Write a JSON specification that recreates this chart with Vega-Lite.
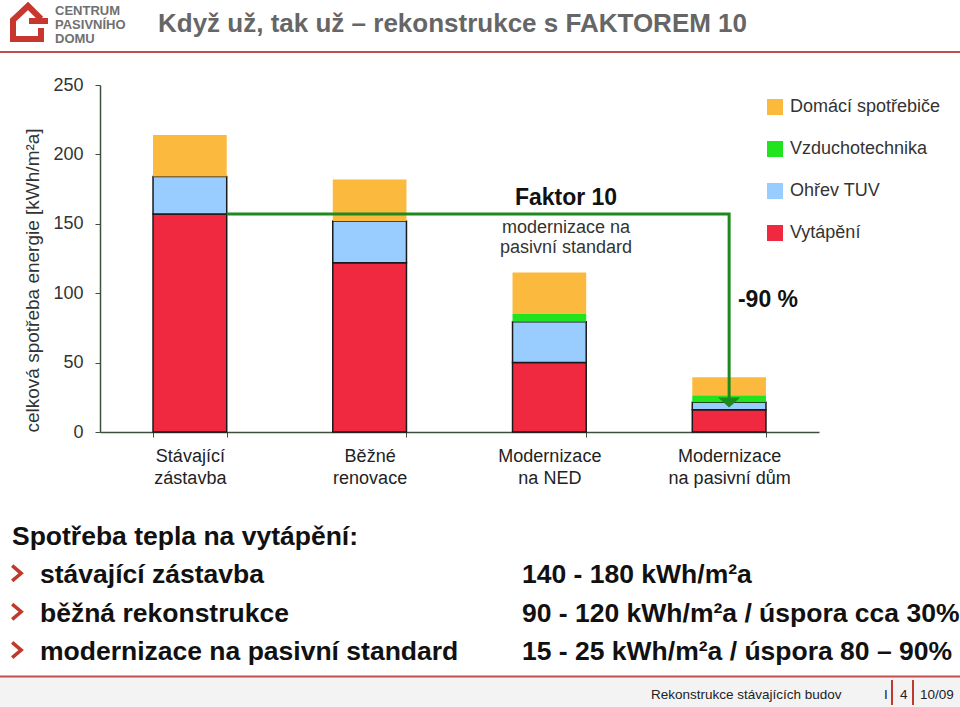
{
  "$schema": "https://vega.github.io/schema/vega-lite/v6.json",
  "width": 719,
  "height": 347,
  "autosize": {"type": "none"},
  "padding": {"left": 100, "top": 85, "right": 141, "bottom": 275},
  "background": "white",
  "config": {
    "font": "Liberation Sans",
    "view": {"stroke": null}
  },
  "resolve": {"scale": {"x": "independent"}, "axis": {"x": "independent", "y": "independent"}},
  "layer": [
    {
      "data": {"values": [{"u": -0.6, "u2": 4.9, "v": -176.2, "v2": -200}]},
      "mark": {"type": "rect", "color": "#f3f3f3"},
      "encoding": {
        "x": {"field": "u", "type": "quantitative", "scale": {"domain": [0, 4], "nice": false, "zero": false}, "axis": null},
        "x2": {"field": "u2"},
        "y": {"field": "v", "type": "quantitative", "scale": {"domain": [0, 250], "nice": false}, "axis": null},
        "y2": {"field": "v2"}
      }
    },
    {
      "data": {"values": [
        {"kategorie": "Stávající zástavba", "typ": "Vytápění", "vrstva": 1, "hodnota": 157},
        {"kategorie": "Stávající zástavba", "typ": "Ohřev TUV", "vrstva": 2, "hodnota": 27},
        {"kategorie": "Stávající zástavba", "typ": "Domácí spotřebiče", "vrstva": 4, "hodnota": 30},
        {"kategorie": "Běžné renovace", "typ": "Vytápění", "vrstva": 1, "hodnota": 122},
        {"kategorie": "Běžné renovace", "typ": "Ohřev TUV", "vrstva": 2, "hodnota": 30},
        {"kategorie": "Běžné renovace", "typ": "Domácí spotřebiče", "vrstva": 4, "hodnota": 30},
        {"kategorie": "Modernizace na NED", "typ": "Vytápění", "vrstva": 1, "hodnota": 50},
        {"kategorie": "Modernizace na NED", "typ": "Ohřev TUV", "vrstva": 2, "hodnota": 29.5},
        {"kategorie": "Modernizace na NED", "typ": "Vzduchotechnika", "vrstva": 3, "hodnota": 5.5},
        {"kategorie": "Modernizace na NED", "typ": "Domácí spotřebiče", "vrstva": 4, "hodnota": 30},
        {"kategorie": "Modernizace na pasivní dům", "typ": "Vytápění", "vrstva": 1, "hodnota": 16},
        {"kategorie": "Modernizace na pasivní dům", "typ": "Ohřev TUV", "vrstva": 2, "hodnota": 5.5},
        {"kategorie": "Modernizace na pasivní dům", "typ": "Vzduchotechnika", "vrstva": 3, "hodnota": 5},
        {"kategorie": "Modernizace na pasivní dům", "typ": "Domácí spotřebiče", "vrstva": 4, "hodnota": 13}
      ]},
      "mark": {"type": "bar", "strokeWidth": 1.5},
      "encoding": {
        "x": {
          "field": "kategorie", "type": "nominal", "sort": null,
          "scale": {"paddingInner": 0.59, "paddingOuter": 0.295},
          "axis": {
            "title": null, "labelAngle": 0, "tickBand": "extent",
            "labelExpr": "[slice(datum.label, 0, indexof(datum.label, ' ')), slice(datum.label, indexof(datum.label, ' ') + 1)]",
            "labelFontSize": 18, "labelColor": "#222", "labelLineHeight": 22, "labelPadding": 10,
            "tickSize": 5, "tickColor": "#3d4f3d", "domainColor": "#3d4f3d", "domainWidth": 1.5
          }
        },
        "y": {
          "field": "hodnota", "type": "quantitative", "stack": "zero",
          "scale": {"domain": [0, 250], "nice": false},
          "axis": {
            "title": "celková spotřeba energie [kWh/m²a]", "values": [0, 50, 100, 150, 200, 250],
            "grid": false, "tickSize": 5, "labelPadding": 12, "labelFontSize": 18, "labelColor": "#333",
            "titleFontSize": 19, "titleFontWeight": "normal", "titleColor": "#333", "titlePadding": 10,
            "titleAnchor": "start",
            "tickColor": "#3d4f3d", "domainColor": "#3d4f3d", "domainWidth": 1.5
          }
        },
        "color": {
          "field": "typ", "type": "nominal",
          "scale": {
            "domain": ["Domácí spotřebiče", "Vzduchotechnika", "Ohřev TUV", "Vytápění"],
            "range": ["#FBBA3E", "#22E41E", "#99CCFF", "#F02840"]
          },
          "legend": {
            "title": null, "orient": "none", "legendX": 666, "legendY": 13,
            "symbolType": "square", "symbolSize": 256, "symbolStrokeWidth": 1.5,
            "labelFontSize": 18, "labelColor": "#333", "labelOffset": 6, "rowPadding": 20,
            "encode": {"symbols": {"update": {"stroke": {"signal": "datum.value === 'Ohřev TUV' || datum.value === 'Vytápění' ? '#1a1a1a' : 'transparent'"}, "opacity": {"value": 1}}}}
          }
        },
        "order": {"field": "vrstva", "type": "quantitative"},
        "stroke": {
          "condition": {"test": "datum.typ === 'Vytápění' || datum.typ === 'Ohřev TUV'", "value": "#1a1a1a"},
          "value": "transparent"
        }
      }
    },
    {
      "data": {"values": [
        {"k": 1, "u": 0.705, "v": 157},
        {"k": 2, "u": 3.5, "v": 157},
        {"k": 3, "u": 3.5, "v": 24}
      ]},
      "mark": {"type": "line", "color": "#1E8A1E", "strokeWidth": 3, "strokeJoin": "miter", "strokeCap": "butt"},
      "encoding": {
        "x": {"field": "u", "type": "quantitative", "scale": {"domain": [0, 4], "nice": false, "zero": false}, "axis": null},
        "y": {"field": "v", "type": "quantitative", "scale": {"domain": [0, 250], "nice": false}, "axis": null},
        "order": {"field": "k", "type": "quantitative"}
      }
    },
    {
      "data": {"values": [{"u": 3.5, "v": 21.3}]},
      "mark": {"type": "point", "shape": "M-1,-0.45L1,-0.45L0,0.45Z", "size": 484, "filled": true, "color": "#1E8A1E", "opacity": 1},
      "encoding": {
        "x": {"field": "u", "type": "quantitative", "scale": {"domain": [0, 4], "nice": false, "zero": false}, "axis": null},
        "y": {"field": "v", "type": "quantitative", "scale": {"domain": [0, 250], "nice": false}, "axis": null}
      }
    },
    {
      "data": {"values": [
        {"u": -0.6, "u2": 4.9, "v": 273.8},
        {"u": -0.6, "u2": 4.9, "v": -176.2}
      ]},
      "mark": {"type": "rule", "color": "#C0504D", "strokeWidth": 2},
      "encoding": {
        "x": {"field": "u", "type": "quantitative", "scale": {"domain": [0, 4], "nice": false, "zero": false}, "axis": null},
        "x2": {"field": "u2"},
        "y": {"field": "v", "type": "quantitative", "scale": {"domain": [0, 250], "nice": false}, "axis": null}
      }
    },
    {
      "data": {"values": [
        {"u": 4.4061, "v": -178.7, "v2": -196.7},
        {"u": 4.5229, "v": -178.7, "v2": -196.7}
      ]},
      "mark": {"type": "rule", "color": "#C0392B", "strokeWidth": 2},
      "encoding": {
        "x": {"field": "u", "type": "quantitative", "scale": {"domain": [0, 4], "nice": false, "zero": false}, "axis": null},
        "y": {"field": "v", "type": "quantitative", "scale": {"domain": [0, 250], "nice": false}, "axis": null},
        "y2": {"field": "v2"}
      }
    },
    {
      "data": {"values": [{"u": -0.395, "v": 294.7}]},
      "mark": {"type": "point", "shape": "M0.6,0.25L0.6,0.8L-0.8,0.8L-0.8,-0.15L-0.05,-0.85L0.6,-0.2M0,-0.1L0.95,-0.1", "size": 1600, "filled": false, "stroke": "#C8372D", "strokeWidth": 6, "strokeJoin": "miter", "opacity": 1},
      "encoding": {
        "x": {"field": "u", "type": "quantitative", "scale": {"domain": [0, 4], "nice": false, "zero": false}, "axis": null},
        "y": {"field": "v", "type": "quantitative", "scale": {"domain": [0, 250], "nice": false}, "axis": null}
      }
    },
    {
      "data": {"values": [
        {"u": -0.4636, "v": -101.8},
        {"u": -0.4636, "v": -129.5},
        {"u": -0.4636, "v": -157.1}
      ]},
      "mark": {"type": "point", "shape": "M-0.46,-0.78L0.46,0L-0.46,0.78", "size": 380, "filled": false, "stroke": "#C0392B", "strokeWidth": 3.5, "strokeJoin": "miter", "opacity": 1},
      "encoding": {
        "x": {"field": "u", "type": "quantitative", "scale": {"domain": [0, 4], "nice": false, "zero": false}, "axis": null},
        "y": {"field": "v", "type": "quantitative", "scale": {"domain": [0, 250], "nice": false}, "axis": null}
      }
    },
    {
      "data": {"values": [
        {"t": "CENTRUM", "u": -0.2503, "v": 300.4},
        {"t": "PASIVNÍHO", "u": -0.2503, "v": 290.3},
        {"t": "DOMU", "u": -0.2503, "v": 280.3}
      ]},
      "mark": {"type": "text", "align": "left", "baseline": "alphabetic", "fontSize": 13, "fontWeight": "bold", "color": "#707070"},
      "encoding": {
        "x": {"field": "u", "type": "quantitative", "scale": {"domain": [0, 4], "nice": false, "zero": false}, "axis": null},
        "y": {"field": "v", "type": "quantitative", "scale": {"domain": [0, 250], "nice": false}, "axis": null},
        "text": {"field": "t"}
      }
    },
    {
      "data": {"values": [{"t": "Když už, tak už – rekonstrukce s FAKTOREM 10", "u": 0.3227, "v": 288.5}]},
      "mark": {"type": "text", "align": "left", "baseline": "alphabetic", "fontSize": 26, "fontWeight": "bold", "color": "#666666"},
      "encoding": {
        "x": {"field": "u", "type": "quantitative", "scale": {"domain": [0, 4], "nice": false, "zero": false}, "axis": null},
        "y": {"field": "v", "type": "quantitative", "scale": {"domain": [0, 250], "nice": false}, "axis": null},
        "text": {"field": "t"}
      }
    },
    {
      "data": {"values": [
        {"t": "Faktor 10", "u": 2.5925, "v": 163.5},
        {"t": "-90 %", "u": 3.7163, "v": 90.3}
      ]},
      "mark": {"type": "text", "align": "center", "baseline": "alphabetic", "fontSize": 23, "fontWeight": "bold", "color": "#111111"},
      "encoding": {
        "x": {"field": "u", "type": "quantitative", "scale": {"domain": [0, 4], "nice": false, "zero": false}, "axis": null},
        "y": {"field": "v", "type": "quantitative", "scale": {"domain": [0, 250], "nice": false}, "axis": null},
        "text": {"field": "t"}
      }
    },
    {
      "data": {"values": [
        {"t": "modernizace na", "u": 2.5925, "v": 143.4},
        {"t": "pasivní standard", "u": 2.5925, "v": 128.7}
      ]},
      "mark": {"type": "text", "align": "center", "baseline": "alphabetic", "fontSize": 18, "color": "#333333"},
      "encoding": {
        "x": {"field": "u", "type": "quantitative", "scale": {"domain": [0, 4], "nice": false, "zero": false}, "axis": null},
        "y": {"field": "v", "type": "quantitative", "scale": {"domain": [0, 250], "nice": false}, "axis": null},
        "text": {"field": "t"}
      }
    },
    {
      "data": {"values": [
        {"t": "Spotřeba tepla na vytápění:", "u": -0.4896, "v": -81.4},
        {"t": "stávající zástavba", "u": -0.3338, "v": -109.0},
        {"t": "běžná rekonstrukce", "u": -0.3338, "v": -136.6},
        {"t": "modernizace na pasivní standard", "u": -0.3338, "v": -164.3},
        {"t": "140 - 180 kWh/m²a", "u": 2.3477, "v": -109.0},
        {"t": "90 - 120 kWh/m²a / úspora cca 30%", "u": 2.3477, "v": -136.6},
        {"t": "15 - 25 kWh/m²a / úspora 80 – 90%", "u": 2.3477, "v": -164.3}
      ]},
      "mark": {"type": "text", "align": "left", "baseline": "alphabetic", "fontSize": 26.5, "fontWeight": "bold", "color": "#111111"},
      "encoding": {
        "x": {"field": "u", "type": "quantitative", "scale": {"domain": [0, 4], "nice": false, "zero": false}, "axis": null},
        "y": {"field": "v", "type": "quantitative", "scale": {"domain": [0, 250], "nice": false}, "axis": null},
        "text": {"field": "t"}
      }
    },
    {
      "data": {"values": [
        {"t": "Rekonstrukce stávajících budov", "u": 3.0654, "v": -192.4},
        {"t": "I", "u": 4.3616, "v": -192.4},
        {"t": "4", "u": 4.4506, "v": -192.4},
        {"t": "10/09", "u": 4.5619, "v": -192.4}
      ]},
      "mark": {"type": "text", "align": "left", "baseline": "alphabetic", "fontSize": 13.5, "color": "#222222"},
      "encoding": {
        "x": {"field": "u", "type": "quantitative", "scale": {"domain": [0, 4], "nice": false, "zero": false}, "axis": null},
        "y": {"field": "v", "type": "quantitative", "scale": {"domain": [0, 250], "nice": false}, "axis": null},
        "text": {"field": "t"}
      }
    }
  ]
}
